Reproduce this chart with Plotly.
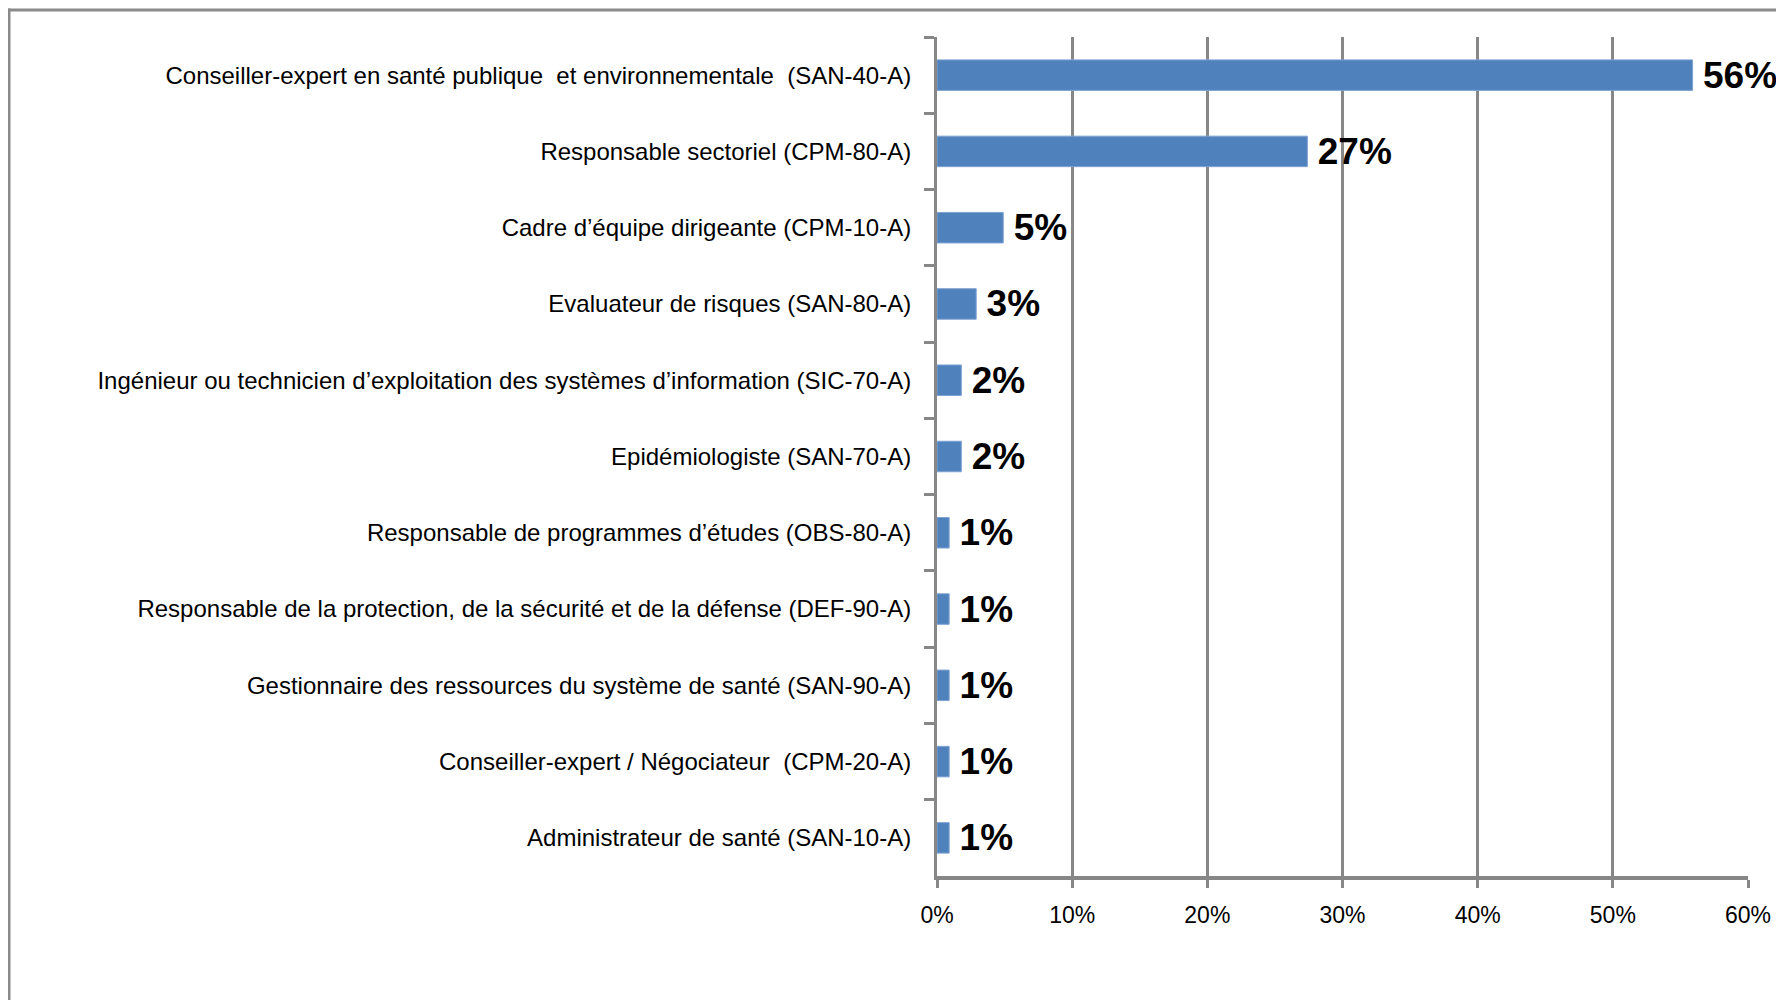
import plotly.graph_objects as go

categories = [
    "Conseiller-expert en santé publique  et environnementale  (SAN-40-A)",
    "Responsable sectoriel (CPM-80-A)",
    "Cadre d\u2019équipe dirigeante (CPM-10-A)",
    "Evaluateur de risques (SAN-80-A)",
    "Ingénieur ou technicien d\u2019exploitation des systèmes d\u2019information (SIC-70-A)",
    "Epidémiologiste (SAN-70-A)",
    "Responsable de programmes d\u2019études (OBS-80-A)",
    "Responsable de la protection, de la sécurité et de la défense (DEF-90-A)",
    "Gestionnaire des ressources du système de santé (SAN-90-A)",
    "Conseiller-expert / Négociateur  (CPM-20-A)",
    "Administrateur de santé (SAN-10-A)",
]
values = [0.559, 0.274, 0.049, 0.029, 0.018, 0.018, 0.009, 0.009, 0.009, 0.009, 0.009]
value_labels = ["56%", "27%", "5%", "3%", "2%", "2%", "1%", "1%", "1%", "1%", "1%"]
x_ticks = [0, 0.1, 0.2, 0.3, 0.4, 0.5, 0.6]
x_tick_labels = ["0%", "10%", "20%", "30%", "40%", "50%", "60%"]

# page has an 8px body margin, so figure pixels = page pixels - 8;
# keep the figure (and everything in it) inside the 1784x1008 window
W, H = 1768, 992
L, R, T, B = 929, 28, 29, 124
pw, ph = W - L - R, H - T - B

AXIS = "#878787"
FONT = "Liberation Sans, Arial, sans-serif"

fig = go.Figure()
fig.add_trace(go.Bar(
    y=categories,
    x=values,
    orientation="h",
    marker=dict(color="#4F81BD", line=dict(color="#7EA3D3", width=1)),
    text=["\u2009" + t for t in value_labels],
    textposition="outside",
    textfont=dict(family=FONT, size=37, color="#000000", weight="bold"),
    constraintext="none",
    cliponaxis=False,
    hoverinfo="skip",
))

# outer chart border: top and left edges (right/bottom run off the picture)
def px_x(x):
    return (x - L) / pw

def px_y(y):
    return (H - B - y) / ph

border = dict(color="#8A8A8A", width=3)
fig.add_shape(type="line", xref="paper", yref="paper",
              x0=px_x(0), x1=px_x(W), y0=px_y(2), y1=px_y(2), line=border, layer="below")
fig.add_shape(type="line", xref="paper", yref="paper",
              x0=px_x(1), x1=px_x(1), y0=px_y(0.5), y1=px_y(H), line=border, layer="below")

fig.update_layout(
    width=W, height=H,
    margin=dict(l=L, r=R, t=T, b=B, pad=0, autoexpand=False),
    paper_bgcolor="white", plot_bgcolor="white",
    showlegend=False,
    bargap=0.6,
    font=dict(family=FONT, color="#000000"),
    xaxis=dict(
        range=[0, 0.6],
        automargin=False,
        tickvals=x_ticks, ticktext=x_tick_labels,
        tickfont=dict(family=FONT, size=23, color="#000000"),
        showgrid=True, gridcolor=AXIS, gridwidth=3,
        showline=True, linecolor=AXIS, linewidth=4,
        ticks="outside", ticklen=8, tickwidth=3, tickcolor=AXIS,
        ticklabelstandoff=7,
        zeroline=False, fixedrange=True,
    ),
    yaxis=dict(
        autorange="reversed",
        automargin=False,
        tickfont=dict(family=FONT, size=24, color="#000000"),
        showline=True, linecolor=AXIS, linewidth=3,
        ticks="outside", ticklen=10, tickwidth=3, tickcolor=AXIS,
        tickson="boundaries",
        ticklabelstandoff=18,
        showgrid=False, zeroline=False, fixedrange=True,
    ),
)

fig.write_html("out.html")
